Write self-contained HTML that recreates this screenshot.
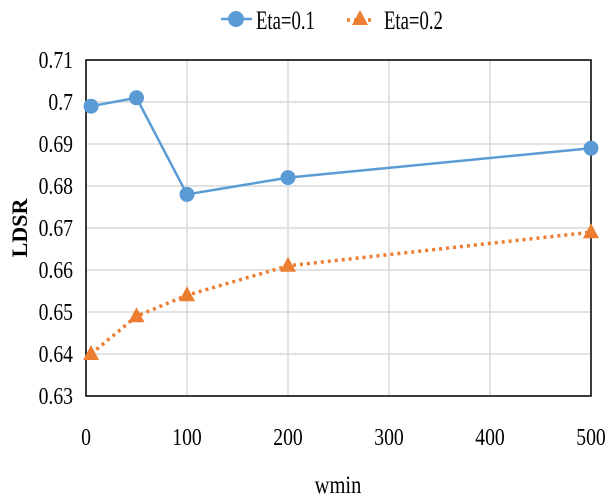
<!DOCTYPE html>
<html><head><meta charset="utf-8"><style>body{margin:0;background:#fff}svg{display:block}text{font-family:"Liberation Serif",serif;fill:#000}</style></head>
<body>
<svg id="chart" width="606" height="503" xmlns="http://www.w3.org/2000/svg"></svg>
<script>
const xValues = [5, 50, 100, 200, 500];
const eta1 = [0.699, 0.701, 0.678, 0.682, 0.689];
const eta2 = [0.640, 0.649, 0.654, 0.661, 0.669];
const xTicks = [0, 100, 200, 300, 400, 500];
const yTicks = [0.63, 0.64, 0.65, 0.66, 0.67, 0.68, 0.69, 0.7, 0.71];
const yTickLabels = ["0.63","0.64","0.65","0.66","0.67","0.68","0.69","0.7","0.71"];

const L=86,R=591,T=60,B=396;
const sx=v=>L+(v-0)/(500-0)*(R-L);
const sy=v=>B-(v-0.63)/(0.71-0.63)*(B-T);
const svg=document.getElementById('chart');
const NS='http://www.w3.org/2000/svg';
function mk(tag,attrs,parent){const e=document.createElementNS(NS,tag);for(const k in attrs)e.setAttribute(k,attrs[k]);(parent||svg).appendChild(e);return e;}
function txt(x,y,s,size,anchor,sc){const t=mk('text',{x:0,y:0,'font-size':size,'text-anchor':anchor,transform:`translate(${x},${y}) scale(${sc||0.82},1)`});t.textContent=s;return t;}

yTicks.forEach((v,i)=>{
  const g=mk('line',{x1:L,x2:R,y1:sy(v),y2:sy(v),stroke:'#d9d9d9','stroke-width':1.5});
  
  
  const t=txt(73,sy(v)+8,yTickLabels[i],24,'end');
  
  
});
xTicks.forEach(v=>{
  const g=mk('line',{x1:sx(v),x2:sx(v),y1:T,y2:B,stroke:'#d9d9d9','stroke-width':1.5});
  
  
  const t=txt(sx(v),445,String(v),24,'middle');
  
  
});
const frame=mk('rect',{x:L,y:T,width:R-L,height:B-T,fill:'none',stroke:'#000','stroke-width':1.5});



const p1=mk('polyline',{points:xValues.map((x,i)=>sx(x)+','+sy(eta1[i])).join(' '),fill:'none',stroke:'#5b9bd5','stroke-width':2.5});


const p2=mk('polyline',{points:xValues.map((x,i)=>sx(x)+','+sy(eta2[i])).join(' '),fill:'none',stroke:'#ed7d31','stroke-width':3.5,'stroke-dasharray':'3,4'});


xValues.forEach((x,i)=>{
  const c=mk('circle',{cx:sx(x),cy:sy(eta1[i]),r:7.5,fill:'#5b9bd5'});
  
  
  const px=sx(x),py=sy(eta2[i]);
  const tr=mk('polygon',{points:`${px},${py-9} ${px-8},${py+6} ${px+8},${py+6}`,fill:'#ed7d31'});
  
  
});

const yt=mk('text',{x:0,y:0,'font-size':22,'font-weight':'bold','text-anchor':'middle',transform:'translate(27,228) rotate(-90)'});
yt.textContent='LDSR';


const xt=txt(338,493,'wmin',25,'middle');



const lg=mk('g',{});


mk('line',{x1:221,x2:252,y1:19,y2:19,stroke:'#5b9bd5','stroke-width':2.5},lg);
mk('circle',{cx:236,cy:19,r:8,fill:'#5b9bd5'},lg);
const l1=txt(256,29,'Eta=0.1',26,'start',0.72);lg.appendChild(l1);


mk('line',{x1:347,x2:374,y1:20,y2:20,stroke:'#ed7d31','stroke-width':3.5,'stroke-dasharray':'3,4'},lg);
mk('polygon',{points:'360,10 352,25 368,25',fill:'#ed7d31'},lg);
const l2=txt(384,29,'Eta=0.2',26,'start',0.72);lg.appendChild(l2);


</script>
</body></html>
